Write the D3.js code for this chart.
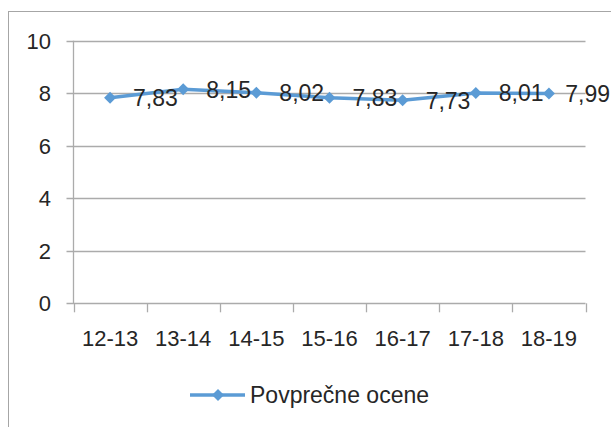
<!DOCTYPE html>
<html>
<head>
<meta charset="utf-8">
<script src="https://cdn.jsdelivr.net/npm/d3@7/dist/d3.min.js"></script>
<style>
  html, body { margin: 0; padding: 0; background: #fff; }
  svg { display: block; }
  text { font-family: "Liberation Sans", Arial, sans-serif; fill: #262626; }
</style>
</head>
<body>
<svg id="chart" width="611" height="427"></svg>
<script>
const categories = ["12-13", "13-14", "14-15", "15-16", "16-17", "17-18", "18-19"];
const values = [7.83, 8.15, 8.02, 7.83, 7.73, 8.01, 7.99];
const valueLabels = ["7,83", "8,15", "8,02", "7,83", "7,73", "8,01", "7,99"];
const yTicks = [0, 2, 4, 6, 8, 10];
const seriesName = "Povprečne ocene";

(function () {
const W = 611, H = 427;
const svg = d3.select("#chart");
const color = "#5B9BD5";
const gridColor = "#ababab";

// chart border (extends beyond right/bottom edge)
svg.append("rect")
  .attr("x", 8.5).attr("y", 11.5)
  .attr("width", W + 10).attr("height", H + 10)
  .attr("fill", "none").attr("stroke", "#a6a6a6").attr("stroke-width", 1);

const pLeft = 73.5, pRight = 585.5, pTop = 40.7, pBottom = 303.3;
const y = d3.scaleLinear().domain([0, 10]).range([pBottom, pTop]);
const xBand = d3.scaleBand().domain(categories).range([pLeft, pRight]).padding(0);
const x = d3.scalePoint().domain(categories).range([pLeft, pRight]).padding(0.5);

// gridlines
svg.append("g").selectAll("line").data(yTicks).join("line")
  .attr("x1", pLeft - 7).attr("x2", pRight)
  .attr("y1", d => Math.round(y(d)) + 0.5).attr("y2", d => Math.round(y(d)) + 0.5)
  .attr("stroke", gridColor).attr("stroke-width", 1.3);

// y axis line
svg.append("line")
  .attr("x1", pLeft).attr("x2", pLeft).attr("y1", pTop).attr("y2", pBottom)
  .attr("stroke", gridColor).attr("stroke-width", 1.3);

// y tick labels
svg.append("g").selectAll("text").data(yTicks).join("text")
  .attr("x", 51).attr("y", d => y(d))
  .attr("dy", "0.36em")
  .attr("text-anchor", "end")
  .attr("font-size", 22)
  .text(d => d);

// x axis ticks at band boundaries
const boundaries = categories.map(c => xBand(c)).concat([pRight]);
svg.append("g").selectAll("line").data(boundaries).join("line")
  .attr("x1", d => Math.round(d) + 0.5).attr("x2", d => Math.round(d) + 0.5)
  .attr("y1", pBottom).attr("y2", pBottom + 9)
  .attr("stroke", gridColor).attr("stroke-width", 1.3);

// x labels
svg.append("g").selectAll("text").data(categories).join("text")
  .attr("x", d => x(d)).attr("y", 346)
  .attr("text-anchor", "middle")
  .attr("font-size", 22)
  .text(d => d);

// series line
const line = d3.line().x((d, i) => x(categories[i])).y(d => y(d));
svg.append("path")
  .datum(values)
  .attr("d", line)
  .attr("fill", "none")
  .attr("stroke", color)
  .attr("stroke-width", 3.5)
  .attr("stroke-linejoin", "round");

const diamond = "M0,-6L6,0L0,6L-6,0Z";
svg.append("g").selectAll("path").data(values).join("path")
  .attr("d", diamond)
  .attr("transform", (d, i) => `translate(${x(categories[i])},${y(d)})`)
  .attr("fill", color);

// data labels (right of point, clamped to the chart edge)
const lblG = svg.append("g");
values.forEach((v, i) => {
  const t = lblG.append("text")
    .attr("font-size", 23)
    .attr("y", y(v))
    .attr("dy", "0.36em")
    .text(valueLabels[i]);
  const w = t.node().getComputedTextLength();
  const px = Math.min(x(categories[i]) + 23, W - w - 1);
  t.attr("x", px);
});

// legend
const lg = svg.append("g");
lg.append("line")
  .attr("x1", 190).attr("x2", 245).attr("y1", 395).attr("y2", 395)
  .attr("stroke", color).attr("stroke-width", 3.5);
lg.append("path").attr("d", diamond)
  .attr("transform", "translate(218,395)").attr("fill", color);
lg.append("text")
  .attr("x", 250).attr("y", 403)
  .attr("font-size", 23)
  .text(seriesName);
})();
</script>
</body>
</html>
